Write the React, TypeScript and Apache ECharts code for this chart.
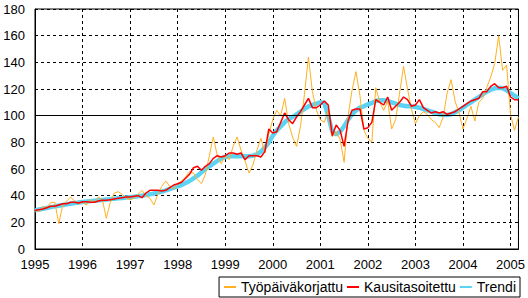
import React, { useEffect, useRef } from "react";
import * as echarts from "echarts";

// Monthly values, Jan 1995 – Mar 2005
const START_YEAR = 1995;
const yearTicks = [1995, 1996, 1997, 1998, 1999, 2000, 2001, 2002, 2003, 2004, 2005];

const tyopaivakorjattu = [
  29, 28, 32, 31, 35, 35, 19, 33, 36, 39, 36, 34, // 1995
  35, 33, 37, 35, 39, 37, 23, 35, 42, 43, 41, 38, // 1996
  37, 38, 41, 44, 40, 38, 33, 41, 47, 51, 47, 45, // 1997
  49, 51, 54, 58, 57, 52, 49, 56, 70, 84, 70, 64, // 1998
  70, 67, 77, 84, 74, 66, 57, 63, 74, 83, 72, 86, // 1999
  97, 104, 100, 113, 94, 84, 77, 92, 116, 144, 118, 104, // 2000
  97, 95, 104, 84, 88, 82, 65, 100, 119, 133, 115, 89, // 2001
  83, 80, 121, 110, 104, 111, 90, 97, 117, 137, 120, 105, // 2002
  94, 100, 103, 101, 97, 95, 91, 99, 117, 127, 111, 102, // 2003
  90, 98, 107, 96, 110, 113, 121, 129, 139, 160, 134, 138, // 2004
  101, 89, 99, // 2005
];

const kausitasoitettu = [
  29, 29.5, 30, 31, 32, 32, 33, 34, 34, 35, 35, 34.5,
  35.5, 35.5, 35, 35, 36, 36.5, 36.5, 37, 37.5, 38, 38.5, 39,
  39, 39.5, 40, 38.5, 42, 44, 44, 44, 43.5, 44, 46, 48,
  49, 50, 53, 56, 61, 62, 59, 62, 64, 68, 70, 69,
  70, 72, 72, 71, 72, 67, 70, 70, 70, 69, 73, 90,
  87, 88, 95, 102, 97, 94, 99, 103, 108, 113, 106, 106,
  108, 111, 108, 85, 93, 89, 77, 96, 104, 105, 105, 90,
  91, 95, 112, 110, 108, 114, 104, 107, 110, 114, 112, 107,
  108, 112, 106, 104, 102, 103, 102, 103, 101, 102, 103, 105,
  107, 109, 111, 112, 113, 118, 118, 122, 124, 121, 121, 122,
  114, 112, 112,
];

const trendi = [
  29, 29.6, 30.2, 30.8, 31.4, 32, 32.5, 33, 33.5, 34, 34.4, 34.9,
  35.3, 35.6, 35.9, 36.2, 36.5, 36.8, 37.1, 37.4, 37.7, 38, 38.3, 38.6,
  38.9, 39.2, 39.6, 40, 40.5, 41, 41.6, 42.3, 43.1, 44, 45, 46,
  47, 48, 49.5, 51, 53, 55, 57.5, 60, 62, 64, 66, 68,
  69, 69.5, 69.5, 69.5, 69.5, 69.5, 69.5, 70, 71, 73, 76, 80,
  85, 89, 92, 95, 97.5, 99, 101, 103, 105, 107, 108, 109,
  110, 109.5, 100, 88, 86, 88, 92, 97, 101, 104, 106, 107,
  108.5, 109.5, 111, 111.5, 111.5, 111, 110, 109, 108, 107.5, 107, 107,
  106.5, 106, 105, 104, 103, 102, 101, 100.5, 100.5, 101, 102.5, 104,
  106, 108, 110, 112, 114, 116, 118, 119.5, 120.5, 121, 120.5, 119,
  117, 115, 113,
];

const seriesNames = ["Työpäiväkorjattu", "Kausitasoitettu", "Trendi"];
const FONT = "Arial, 'Liberation Sans', sans-serif";

const toPairs = (arr: number[]) => arr.map((v, i) => [START_YEAR + i / 12, v]);

export default function App() {
  const ref = useRef<HTMLDivElement>(null);
  useEffect(() => {
    if (!ref.current) return;
    const chart = echarts.init(ref.current, undefined, { renderer: "svg" });
    const lastX = START_YEAR + (trendi.length - 1) / 12;
    chart.setOption({
      animation: false,
      backgroundColor: "#fff",
      grid: {
        left: 35,
        right: 9,
        top: 9,
        bottom: 49,
        show: true,
        borderColor: "#000",
        borderWidth: 1,
        backgroundColor: "transparent",
      },
      xAxis: {
        type: "value",
        min: yearTicks[0],
        max: lastX,
        interval: 1,
        axisLine: { show: true, lineStyle: { color: "#000", width: 1 } },
        axisTick: { show: false },
        axisLabel: {
          color: "#000",
          fontSize: 13,
          fontFamily: FONT,
          margin: 9,
          showMaxLabel: false,
          formatter: (v: number) =>
            Math.abs(v - Math.round(v)) < 1e-6 && yearTicks.includes(Math.round(v))
              ? String(Math.round(v))
              : "",
        },
        splitLine: { show: true, lineStyle: { color: "#000", type: [3, 3], width: 1 } },
      },
      yAxis: {
        type: "value",
        min: 0,
        max: 180,
        interval: 20,
        axisLine: { show: true, lineStyle: { color: "#000", width: 1 } },
        axisTick: { show: false },
        axisLabel: { color: "#000", fontSize: 13, fontFamily: FONT, margin: 10 },
        splitLine: { show: true, lineStyle: { color: "#000", type: [3, 3], width: 1 } },
      },
      legend: {
        data: seriesNames,
        right: 8,
        bottom: 1,
        orient: "horizontal",
        itemWidth: 12,
        itemHeight: 14,
        itemGap: 3,
        padding: [3, 4, 3, 4],
        borderColor: "#000",
        borderWidth: 1,
        borderRadius: 0,
        backgroundColor: "#fff",
        itemStyle: { opacity: 0 },
        textStyle: { color: "#000", fontSize: 14, fontFamily: FONT },
      },
      series: [
        {
          name: seriesNames[2],
          type: "line",
          data: toPairs(trendi),
          symbol: "none",
          showSymbol: false,
          lineStyle: { color: "#5BD3F4", width: 4.5 },
          itemStyle: { color: "#5BD3F4" },
          z: 2,
          markLine: {
            silent: true,
            symbol: "none",
            label: { show: false },
            lineStyle: { color: "#000", type: "solid", width: 1 },
            data: [{ yAxis: 100 }],
          },
        },
        {
          name: seriesNames[0],
          type: "line",
          data: toPairs(tyopaivakorjattu),
          symbol: "none",
          showSymbol: false,
          lineStyle: { color: "#FFB020", width: 1 },
          itemStyle: { color: "#FFB020" },
          z: 3,
        },
        {
          name: seriesNames[1],
          type: "line",
          data: toPairs(kausitasoitettu),
          symbol: "none",
          showSymbol: false,
          lineStyle: { color: "#FF0000", width: 1.5 },
          itemStyle: { color: "#FF0000" },
          z: 4,
        },
      ],
    });
    return () => chart.dispose();
  }, []);
  return (
    <div
      ref={ref}
      style={{ position: "fixed", left: 0, top: 0, width: 528, height: 298 }}
    />
  );
}
